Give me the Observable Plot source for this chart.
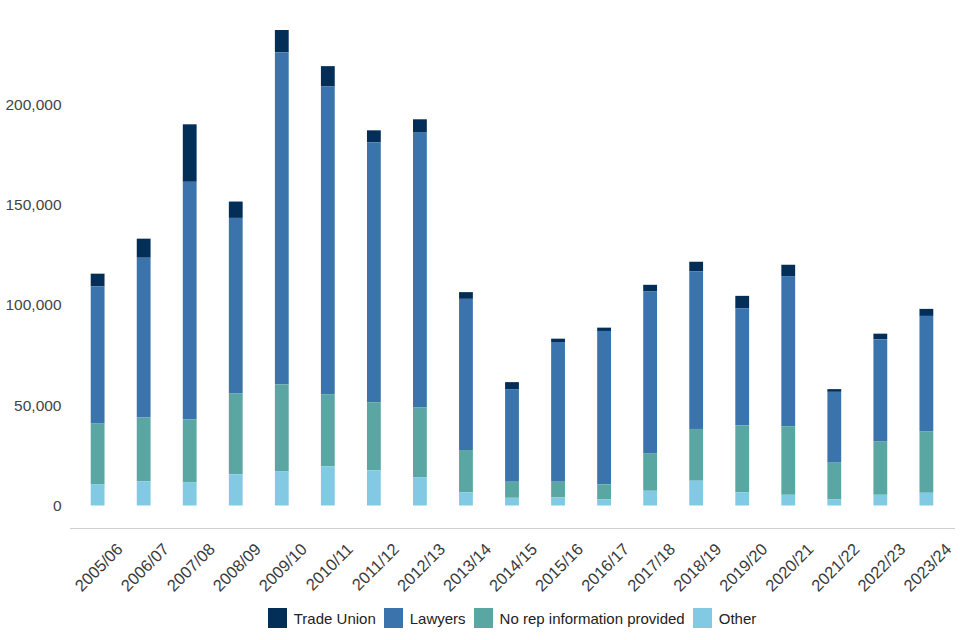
<!DOCTYPE html>
<html>
<head>
<meta charset="utf-8">
<script src="https://cdn.jsdelivr.net/npm/d3@7"></script>
<script src="https://cdn.jsdelivr.net/npm/@observablehq/plot@0.6"></script>
<style>
  html, body { margin: 0; padding: 0; background: #fff; }
  body { width: 960px; height: 640px; overflow: hidden; font-family: "Liberation Sans", Arial, Helvetica, sans-serif; }
  #legend { display: flex; justify-content: center; align-items: center; margin-top: 8px; padding-left: 64px; font-size: 15px; color: #222; }
  #legend .item { display: flex; align-items: center; margin: 0 4px; }
  #legend .sw { width: 19px; height: 20px; margin-right: 7px; }
</style>
</head>
<body>
<div id="chart"></div>
<div id="legend"></div>
<script>
const years = ["2005/06","2006/07","2007/08","2008/09","2009/10","2010/11","2011/12","2012/13","2013/14","2014/15","2015/16","2016/17","2017/18","2018/19","2019/20","2020/21","2021/22","2022/23","2023/24"];
const seriesNames = ["Trade Union", "Lawyers", "No rep information provided", "Other"];
const seriesColors = ["#032e57", "#3b74ac", "#5aa6a3", "#82cae4"];
const tradeUnion = [6350, 9500, 28650, 8150, 11150, 10150, 6000, 6350, 3350, 3500, 1650, 1650, 3350, 4850, 6150, 5650, 1350, 2800, 3500];
const lawyers = [68150, 79650, 118350, 87350, 165500, 153350, 129500, 137150, 75350, 46150, 69650, 76500, 80800, 78500, 58350, 74850, 35300, 51000, 57650];
const noRep = [30400, 31850, 31350, 40500, 43200, 36000, 34000, 34850, 21150, 8000, 7850, 7500, 18500, 25800, 33500, 34150, 18350, 26500, 30500];
const other = [10650, 12000, 11650, 15500, 17150, 19500, 17500, 14150, 6500, 3850, 4000, 3000, 7350, 12350, 6500, 5350, 3000, 5350, 6350];
const yTicks = [0, 50000, 100000, 150000, 200000];

const seriesValues = [tradeUnion, lawyers, noRep, other];
const data = [];
years.forEach((y, i) => {
  seriesNames.forEach((s, j) => data.push({year: y, series: s, value: seriesValues[j][i]}));
});

const chart = Plot.plot({
  width: 960,
  height: 600,
  marginLeft: 70,
  marginRight: 6,
  marginTop: 24,
  marginBottom: 72,
  style: {fontFamily: '"Liberation Sans", Arial, Helvetica, sans-serif', fontSize: "15.5px", color: "#444"},
  x: {domain: years, paddingInner: 0.7, paddingOuter: 0.45, round: false, label: null},
  y: {domain: [0, 240000], insetBottom: 22.5, label: null},
  color: {domain: seriesNames, range: seriesColors},
  marks: [
    Plot.frame({anchor: "bottom", stroke: "#d0d0d0", strokeWidth: 1}),
    Plot.barY(data, Plot.stackY({
      x: "year", y: "value", fill: "series",
      order: ["Other", "No rep information provided", "Lawyers", "Trade Union"]
    })),
    Plot.axisY({ticks: yTicks, tickFormat: d3.format(","), tickSize: 0, tickPadding: 9, label: null, fill: "#444", fontSize: 15.5}),
    Plot.axisX({tickSize: 0, tickRotate: -45, tickPadding: 18, dx: 22, label: null, fill: "#3a3a3a", fontSize: 16.5})
  ]
});
document.getElementById("chart").appendChild(chart);

const legend = document.getElementById("legend");
seriesNames.forEach((s, i) => {
  const item = document.createElement("div");
  item.className = "item";
  const sw = document.createElement("div");
  sw.className = "sw";
  sw.style.background = seriesColors[i];
  const t = document.createElement("span");
  t.textContent = s;
  item.appendChild(sw);
  item.appendChild(t);
  legend.appendChild(item);
});
</script>
</body>
</html>
